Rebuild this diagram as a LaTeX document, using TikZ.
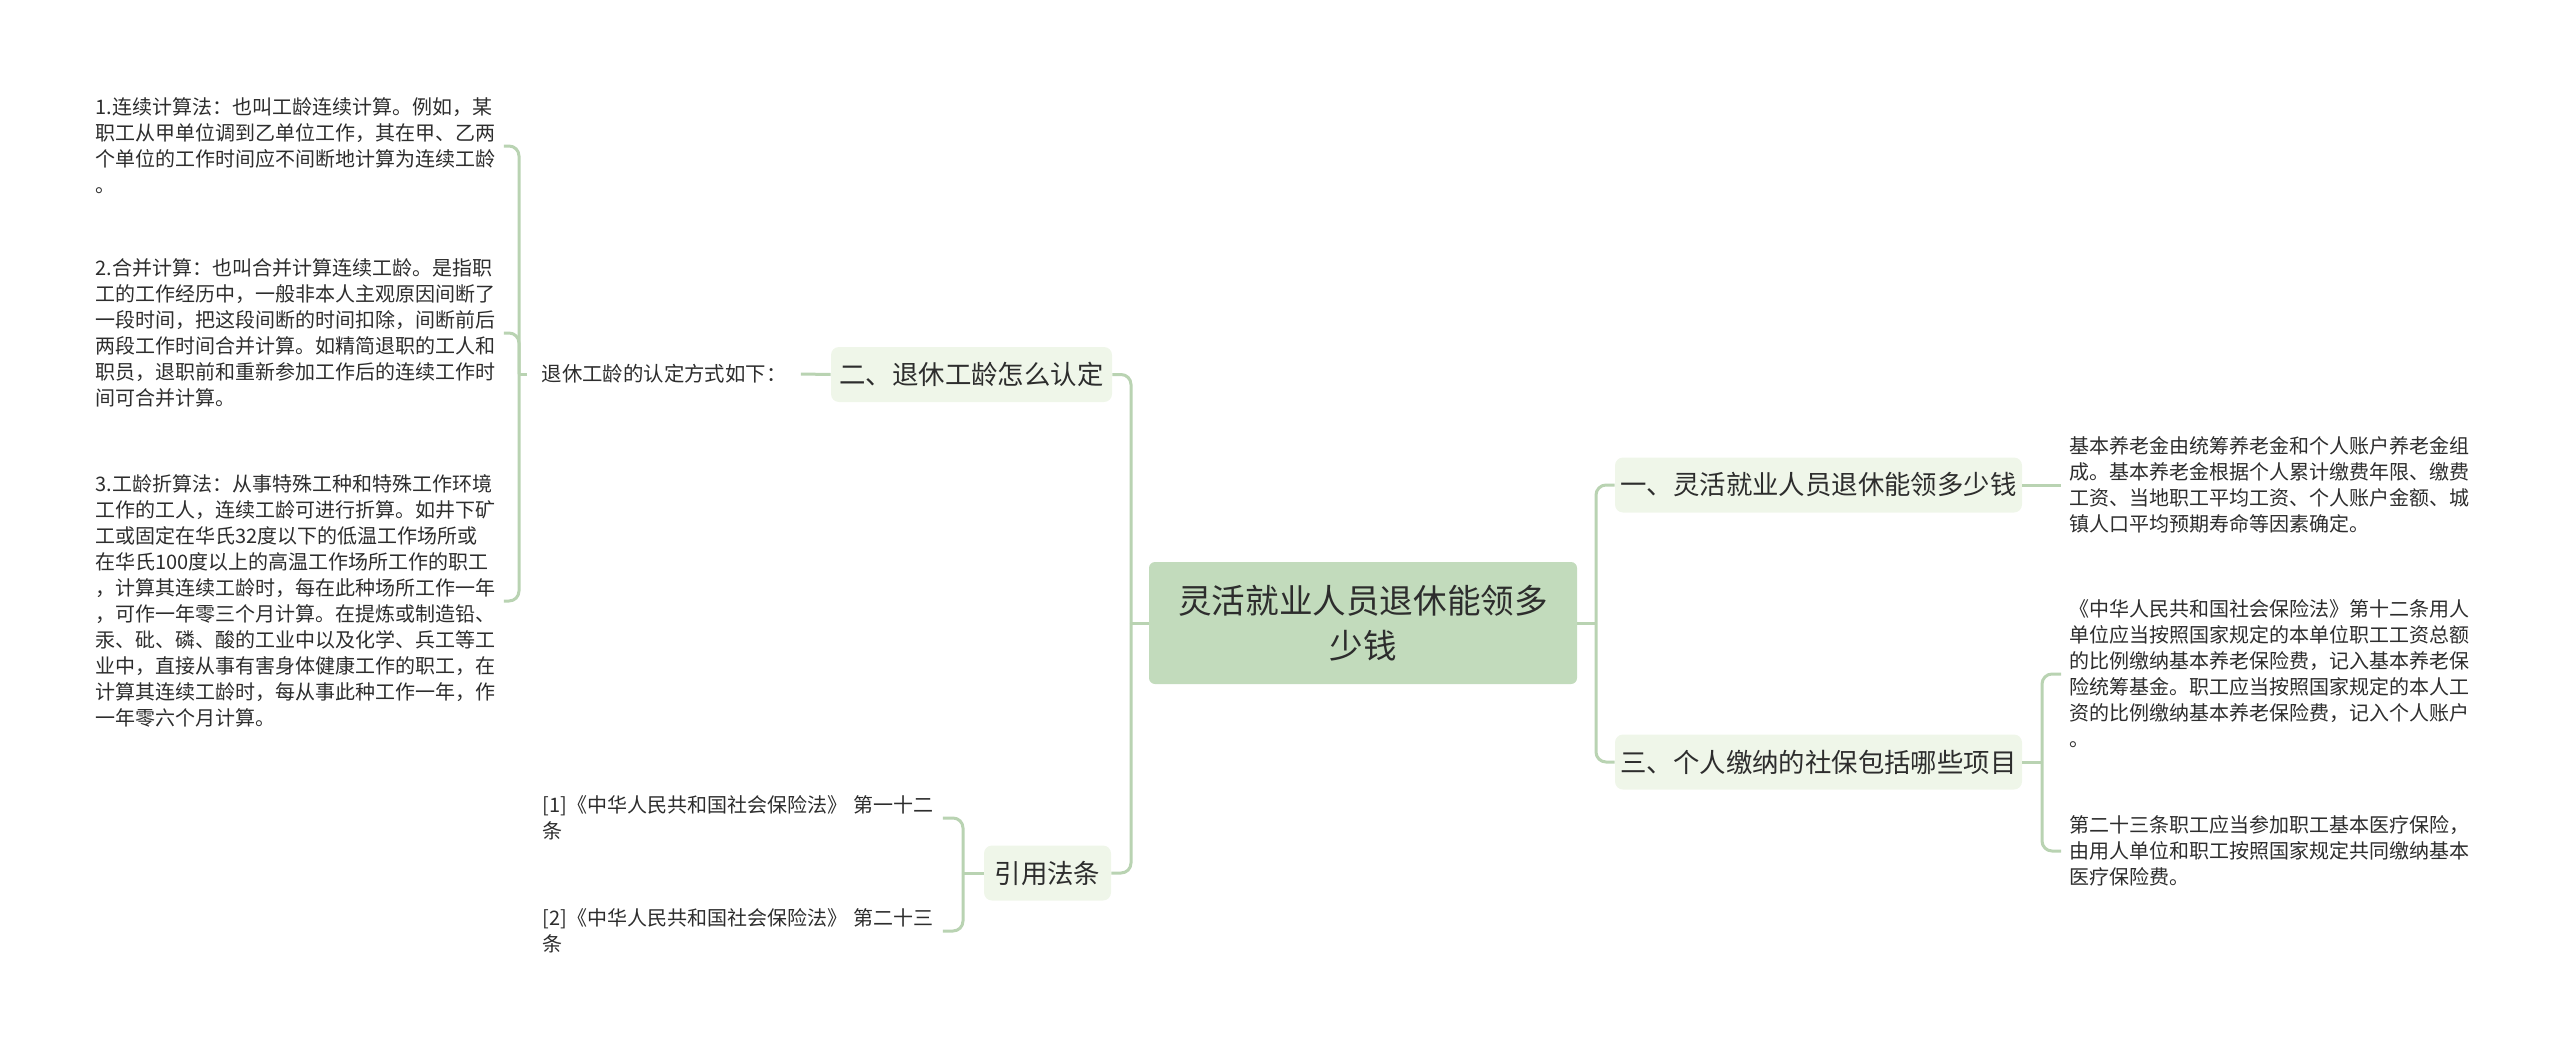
\documentclass[tikz,border=0pt]{standalone}
\usepackage{fontspec}
\setmainfont{Noto Sans CJK SC}
\usepackage{tikz}
\definecolor{rootfill}{RGB}{194,219,188}
\definecolor{subfill}{RGB}{239,246,233}
\definecolor{linkgreen}{RGB}{185,211,178}
\definecolor{inkgray}{RGB}{45,45,45}

\begin{document}
\begin{tikzpicture}[x=0.5pt, y=-0.5pt,
		rootbox/.style={fill=rootfill, rounded corners=3pt, text=inkgray, align=center, minimum width=214pt, minimum height=61pt, font=\fontsize{16.8}{22.5}\selectfont},
		subbox/.style={fill=subfill, rounded corners=4pt, text=inkgray, minimum height=27.5pt, inner xsep=0pt, font=\fontsize{13.2}{16}\selectfont},
		leafbox/.style={text=inkgray, align=left, anchor=west, inner xsep=4pt, inner ysep=2pt, text width=200pt, font=\fontsize{10}{13}\selectfont},
		midlabel/.style={text=inkgray, inner xsep=7pt, font=\fontsize{10.2}{13}\selectfont},
		link/.style={draw=linkgreen, line width=1.5pt, rounded corners=5pt}]
		\useasboundingbox (0,0) rectangle (2560,1049);
		% main topic and branches
		\node[rootbox] (root) at (1363,623) {灵活就业人员退休能领多\\少钱};
		\node[subbox, minimum width=140.5pt] (two) at (971.5,374.5) {二、退休工龄怎么认定};
		\node[subbox, minimum width=63.5pt] (cite) at (1047.5,873) {引用法条};
		\node[subbox, minimum width=203.5pt] (one) at (1818.5,485) {一、灵活就业人员退休能领多少钱};
		\node[subbox, minimum width=203.5pt] (three) at (1818.5,762) {三、个人缴纳的社保包括哪些项目};
		\node[midlabel] (way) at (664,374) {退休工龄的认定方式如下：};
		% leaves
		\node[leafbox] (calc1) at (87,146) {1.连续计算法：也叫工龄连续计算。例如，某\\职工从甲单位调到乙单位工作，其在甲、乙两\\个单位的工作时间应不间断地计算为连续工龄\\。};
		\node[leafbox] (calc2) at (87,333) {2.合并计算：也叫合并计算连续工龄。是指职\\工的工作经历中，一般非本人主观原因间断了\\一段时间，把这段间断的时间扣除，间断前后\\两段工作时间合并计算。如精简退职的工人和\\职员，退职前和重新参加工作后的连续工作时\\间可合并计算。};
		\node[leafbox] (calc3) at (87,601) {3.工龄折算法：从事特殊工种和特殊工作环境\\工作的工人，连续工龄可进行折算。如井下矿\\工或固定在华氏32度以下的低温工作场所或\\在华氏100度以上的高温工作场所工作的职工\\，计算其连续工龄时，每在此种场所工作一年\\，可作一年零三个月计算。在提炼或制造铅、\\汞、砒、磷、酸的工业中以及化学、兵工等工\\业中，直接从事有害身体健康工作的职工，在\\计算其连续工龄时，每从事此种工作一年，作\\一年零六个月计算。};
		\node[leafbox, text width=196pt] (law1) at (534,818) {[1]《中华人民共和国社会保险法》 第一十二\\条};
		\node[leafbox, text width=196pt] (law2) at (534,931) {[2]《中华人民共和国社会保险法》 第二十三\\条};
		\node[leafbox] (pension) at (2061,485) {基本养老金由统筹养老金和个人账户养老金组\\成。基本养老金根据个人累计缴费年限、缴费\\工资、当地职工平均工资、个人账户金额、城\\镇人口平均预期寿命等因素确定。};
		\node[leafbox] (art12) at (2061,674) {《中华人民共和国社会保险法》第十二条用人\\单位应当按照国家规定的本单位职工工资总额\\的比例缴纳基本养老保险费，记入基本养老保\\险统筹基金。职工应当按照国家规定的本人工\\资的比例缴纳基本养老保险费，记入个人账户\\。};
		\node[leafbox] (art23) at (2061,851) {第二十三条职工应当参加职工基本医疗保险，\\由用人单位和职工按照国家规定共同缴纳基本\\医疗保险费。};
		% junctions
		\coordinate (jl) at (1131,623);
		\coordinate (jr) at (1596,623);
		\coordinate (jway) at (519,374);
		\coordinate (jcite) at (963,873);
		\coordinate (jthree) at (2042,762);
		% links
		\draw[link] (root.west) -- (jl);
		\draw[link] (jl) |- (two.east);
		\draw[link] (jl) |- (cite.east);
		\draw[link] (root.east) -- (jr);
		\draw[link] (jr) |- (one.west);
		\draw[link] (jr) |- (three.west);
		\draw[link] (two.west) -- (way.east);
		\draw[link] (way.west) -- (jway);
		\draw[link] (jway) |- (calc1.east);
		\draw[link] (jway) |- (calc2.east);
		\draw[link] (jway) |- (calc3.east);
		\draw[link] (cite.west) -- (jcite);
		\draw[link] (jcite) |- (law1.east);
		\draw[link] (jcite) |- (law2.east);
		\draw[link] (one.east) -- (pension.west);
		\draw[link] (three.east) -- (jthree);
		\draw[link] (jthree) |- (art12.west);
		\draw[link] (jthree) |- (art23.west);
\end{tikzpicture}
\end{document}
